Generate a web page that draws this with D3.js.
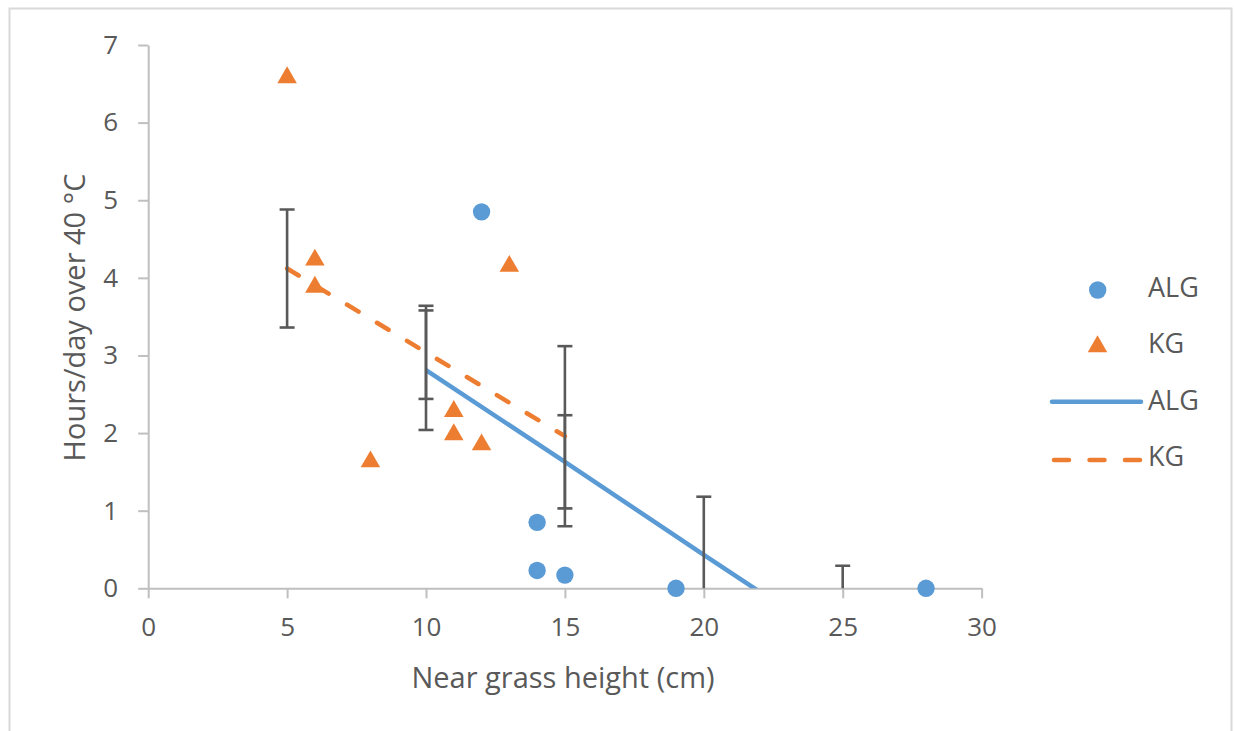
<!DOCTYPE html>
<html>
<head>
<meta charset="utf-8">
<script src="https://cdn.jsdelivr.net/npm/d3@7"></script>
<style>
  html, body { margin: 0; padding: 0; background: #fff; }
  svg { display: block; }
  text { font-family: "Open Sans", sans-serif; fill: #595959; }
</style>
</head>
<body>
<svg id="chart" width="1234" height="731"></svg>
<script>
// ---- data ----
const algX = [12, 14, 14, 15, 19, 28];
const algY = [4.85, 0.85, 0.23, 0.17, 0, 0];
const kgX = [5, 6, 6, 8, 11, 11, 12, 13];
const kgY = [6.6, 4.25, 3.9, 1.65, 2.3, 2.0, 1.87, 4.17];
const algLineX = [10, 15, 20, 25];
const algLineY = [2.81, 1.63, 0.43, -0.75];
const algLineErr = [0.77, 0.6, 0.75, 1.04];
const kgLineX = [5, 10, 15];
const kgLineY = [4.12, 3.04, 1.96];
const kgLineErr = [0.76, 0.6, 1.16];
const xTicks = [0, 5, 10, 15, 20, 25, 30];
const yTicks = [0, 1, 2, 3, 4, 5, 6, 7];
const legendLabels = ["ALG", "KG", "ALG", "KG"];
const xTitle = "Near grass height (cm)";
const yTitle = "Hours/day over 40 °C";

const blue = "#5B9BD5", orange = "#ED7D31", errCol = "#595959", axisCol = "#BFBFBF";

const svg = d3.select("#chart");
// outer border
svg.append("rect").attr("x", 9.5).attr("y", 8.5).attr("width", 1222).attr("height", 740)
  .attr("fill", "none").attr("stroke", "#D9D9D9").attr("stroke-width", 2);

const x = d3.scaleLinear().domain([0, 30]).range([148.2, 981.6]);
const y = d3.scaleLinear().domain([0, 7]).range([588.3, 45]);

// axes
const gy = svg.append("g").attr("transform", `translate(${x(0)},0)`)
  .call(d3.axisLeft(y).tickValues(yTicks).tickSize(10).tickSizeOuter(0).tickPadding(20).tickFormat(d3.format("d")));
const gx = svg.append("g").attr("transform", `translate(0,${y(0)})`)
  .call(d3.axisBottom(x).tickValues(xTicks).tickSize(10).tickSizeOuter(0).tickPadding(19).tickFormat(d3.format("d")));
[gx, gy].forEach(g => {
  g.select(".domain").attr("stroke", axisCol).attr("stroke-width", 2);
  g.selectAll(".tick line").attr("stroke", axisCol).attr("stroke-width", 2);
  g.selectAll(".tick text").attr("fill", "#595959").style("font-size", "26px").style("font-family", "'Open Sans', sans-serif");
});

// clip
svg.append("clipPath").attr("id", "plotclip").append("rect")
  .attr("x", x(0)).attr("y", y(7) - 2).attr("width", x(30) - x(0)).attr("height", y(0) - y(7) + 2);
const plot = svg.append("g").attr("clip-path", "url(#plotclip)");

const line = d3.line().x(d => x(d[0])).y(d => y(d[1]));

// error bars
function errorBars(xs, ys, es) {
  const g = plot.append("g").attr("stroke", errCol).attr("stroke-width", 2.6).attr("fill", "none");
  xs.forEach((xv, i) => {
    const lo = ys[i] - es[i], hi = ys[i] + es[i];
    g.append("line").attr("x1", x(xv)).attr("x2", x(xv)).attr("y1", y(lo)).attr("y2", y(hi));
    [lo, hi].forEach(v => g.append("line").attr("x1", x(xv) - 7.5).attr("x2", x(xv) + 7.5).attr("y1", y(v)).attr("y2", y(v)));
  });
}

// ALG mean line
plot.append("path").datum(algLineX.map((d, i) => [d, algLineY[i]]))
  .attr("d", line).attr("fill", "none").attr("stroke", blue).attr("stroke-width", 4.5);
errorBars(algLineX, algLineY, algLineErr);
// KG mean line
plot.append("path").datum(kgLineX.map((d, i) => [d, kgLineY[i]]))
  .attr("d", line).attr("fill", "none").attr("stroke", orange).attr("stroke-width", 4.5)
  .attr("stroke-dasharray", "13.5,21.5").attr("stroke-linecap", "round");
errorBars(kgLineX, kgLineY, kgLineErr);

// markers
const tri = d3.symbol().type(d3.symbolTriangle).size(165);
svg.append("g").selectAll("circle").data(algX.map((d, i) => [d, algY[i]])).join("circle")
  .attr("cx", d => x(d[0])).attr("cy", d => y(d[1])).attr("r", 8.7).attr("fill", blue);
svg.append("g").selectAll("path").data(kgX.map((d, i) => [d, kgY[i]])).join("path")
  .attr("d", tri).attr("transform", d => `translate(${x(d[0])},${y(d[1]) + 1.5})`).attr("fill", orange);

// axis titles
function fitText(sel, target) {
  const w = sel.node().getComputedTextLength();
  if (w > target) sel.attr("textLength", target).attr("lengthAdjust", "spacingAndGlyphs");
}
const xt = svg.append("text").attr("x", 563).attr("y", 688).attr("text-anchor", "middle")
  .style("font-size", "29px").text(xTitle);
fitText(xt, 305);
const yt = svg.append("text").attr("transform", "translate(85,317.5) rotate(-90)").attr("text-anchor", "middle")
  .style("font-size", "29px").text(yTitle);
fitText(yt, 296);

// legend
const lg = svg.append("g");
lg.append("circle").attr("cx", 1097.7).attr("cy", 290).attr("r", 8.7).attr("fill", blue);
lg.append("path").attr("d", tri).attr("transform", "translate(1097.5,346.5)").attr("fill", orange);
lg.append("line").attr("x1", 1052).attr("x2", 1141).attr("y1", 401.7).attr("y2", 401.7)
  .attr("stroke", blue).attr("stroke-width", 4.5).attr("stroke-linecap", "round");
lg.append("line").attr("x1", 1054).attr("x2", 1141).attr("y1", 460).attr("y2", 460)
  .attr("stroke", orange).attr("stroke-width", 4.5).attr("stroke-linecap", "round").attr("stroke-dasharray", "15,20.5");
const baselines = [297, 353, 410, 466];
legendLabels.forEach((t, i) => {
  lg.append("text").attr("x", 1148).attr("y", baselines[i]).style("font-size", "27px").text(t);
});
</script>
</body>
</html>
